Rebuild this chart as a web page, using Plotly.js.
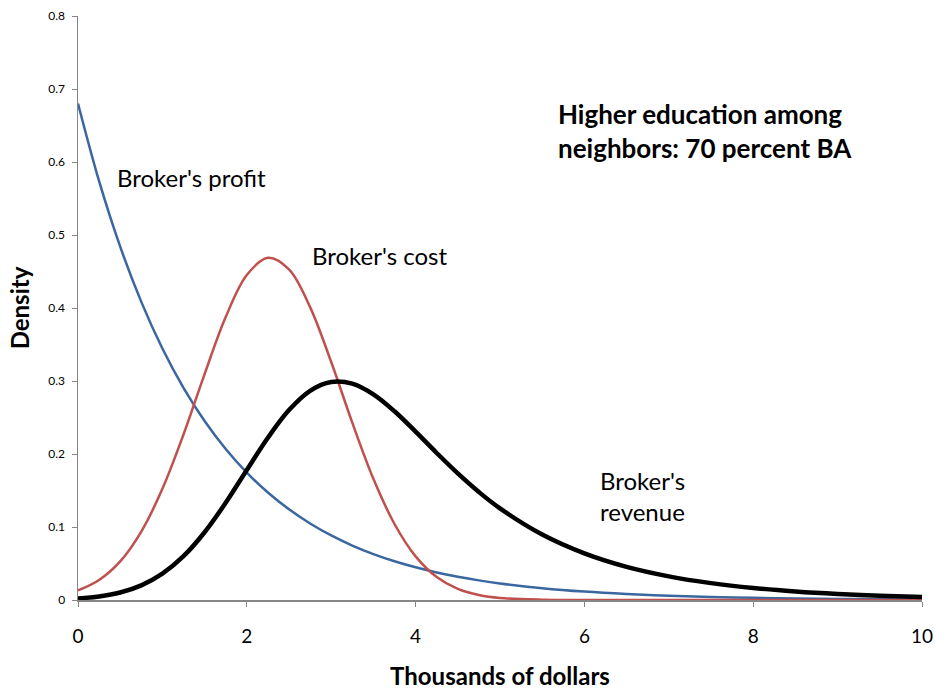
<!DOCTYPE html>
<html>
<head>
<meta charset="utf-8">
<script src="https://cdn.plot.ly/plotly-3.0.1.min.js"></script>
<style>html,body{margin:0;padding:0;background:#fff;}#chart{width:937px;height:692px;}</style>
</head>
<body>
<div id="chart"></div>
<script>
// x values (thousands of dollars)
const xVals = [0,0.25,0.5,0.75,1,1.25,1.5,1.75,2,2.25,2.5,2.75,3,3.25,3.5,3.75,4,4.25,4.5,4.75,5,5.5,6,6.5,7,7.5,8,8.5,9,9.5,10];
// Broker's profit density
const profit = [0.680,0.5737,0.4840,0.4084,0.3445,0.2906,0.2452,0.2069,0.1745,0.1472,0.1242,0.1048,0.0884,0.0746,0.0629,0.0531,0.0448,0.0378,0.0319,0.0269,0.0227,0.0162,0.0115,0.0082,0.0058,0.0041,0.0030,0.0021,0.0015,0.0011,0.0008];
// Broker's cost density
const cost = [0.0131,0.0275,0.0530,0.0938,0.1523,0.2267,0.3095,0.3876,0.4451,0.4688,0.4529,0.4012,0.3260,0.2429,0.1660,0.1041,0.0598,0.0315,0.0152,0.0068,0.0027,0.0004,0.0000,0,0,0,0,0,0,0,0];
// Broker's revenue density
const revenue = [0.0022,0.0049,0.0103,0.0201,0.0361,0.0600,0.0928,0.1332,0.1781,0.2223,0.2602,0.2866,0.2987,0.2964,0.2817,0.2585,0.2306,0.2014,0.1734,0.1479,0.1255,0.0897,0.0639,0.0454,0.0324,0.0231,0.0164,0.0117,0.0083,0.0059,0.0042];
const xTicks = [0,2,4,6,8,10];
const yTicks = [0,0.1,0.2,0.3,0.4,0.5,0.6,0.7,0.8];
const yTickText = ['0','0.1','0.2','0.3','0.4','0.5','0.6','0.7','0.8'];

const FONT = 'Lato, "Open Sans", sans-serif';

const traces = [
  {x:xVals, y:profit, mode:'lines', line:{color:'#3A679F', width:2.5, shape:'spline', smoothing:1}, name:"Broker's profit", hoverinfo:'skip'},
  {x:xVals, y:cost, mode:'lines', line:{color:'#C0504D', width:2.5, shape:'spline', smoothing:1}, name:"Broker's cost", hoverinfo:'skip'},
  {x:xVals, y:revenue, mode:'lines', line:{color:'#000000', width:4.5, shape:'spline', smoothing:1}, name:"Broker's revenue", hoverinfo:'skip'}
];

const layout = {
  width:937, height:692,
  margin:{l:78, r:15, t:16, b:92},
  paper_bgcolor:'#fff', plot_bgcolor:'#fff',
  showlegend:false,
  font:{family:FONT, color:'#000'},
  xaxis:{
    range:[0,10], tickvals:xTicks, ticktext:xTicks.map(String),
    showgrid:false, zeroline:false, showline:true, linecolor:'#868686', linewidth:1.5,
    ticks:'outside', ticklen:5, tickcolor:'#868686', tickwidth:1,
    ticklabelstandoff:14,
    tickfont:{family:FONT, size:19, color:'#000'},
    title:{text:'<b>Thousands of dollars</b>', font:{family:FONT, size:24, color:'#000'}, standoff:22}
  },
  yaxis:{
    range:[0,0.8], tickvals:yTicks, ticktext:yTickText,
    showgrid:false, zeroline:false, showline:true, linecolor:'#868686', linewidth:1.5,
    ticks:'outside', ticklen:5, tickcolor:'#868686', tickwidth:1,
    ticklabelstandoff:4,
    tickfont:{family:FONT, size:12, color:'#000'},
    title:{text:'<b>Density</b>', font:{family:FONT, size:24, color:'#000'}, standoff:12}
  },
  annotations:[
    {x:0.44, y:0.579, xref:'x', yref:'y', xanchor:'left', yanchor:'middle', showarrow:false, text:"Broker's profit", font:{family:FONT, size:24, color:'#000'}},
    {x:2.75, y:0.472, xref:'x', yref:'y', xanchor:'left', yanchor:'middle', showarrow:false, text:"Broker's cost", font:{family:FONT, size:24, color:'#000'}},
    {x:6.16, y:0.1427, xref:'x', yref:'y', xanchor:'left', yanchor:'middle', align:'left', showarrow:false, text:"Broker's<br>revenue", font:{family:FONT, size:24, color:'#000'}},
    {x:5.66, y:0.643, xref:'x', yref:'y', xanchor:'left', yanchor:'middle', align:'left', showarrow:false, text:"<b>Higher education among<br>neighbors: 70 percent BA</b>", font:{family:FONT, size:26, color:'#000'}}
  ]
};

Plotly.newPlot('chart', traces, layout, {staticPlot:true, displayModeBar:false});
</script>
</body>
</html>
